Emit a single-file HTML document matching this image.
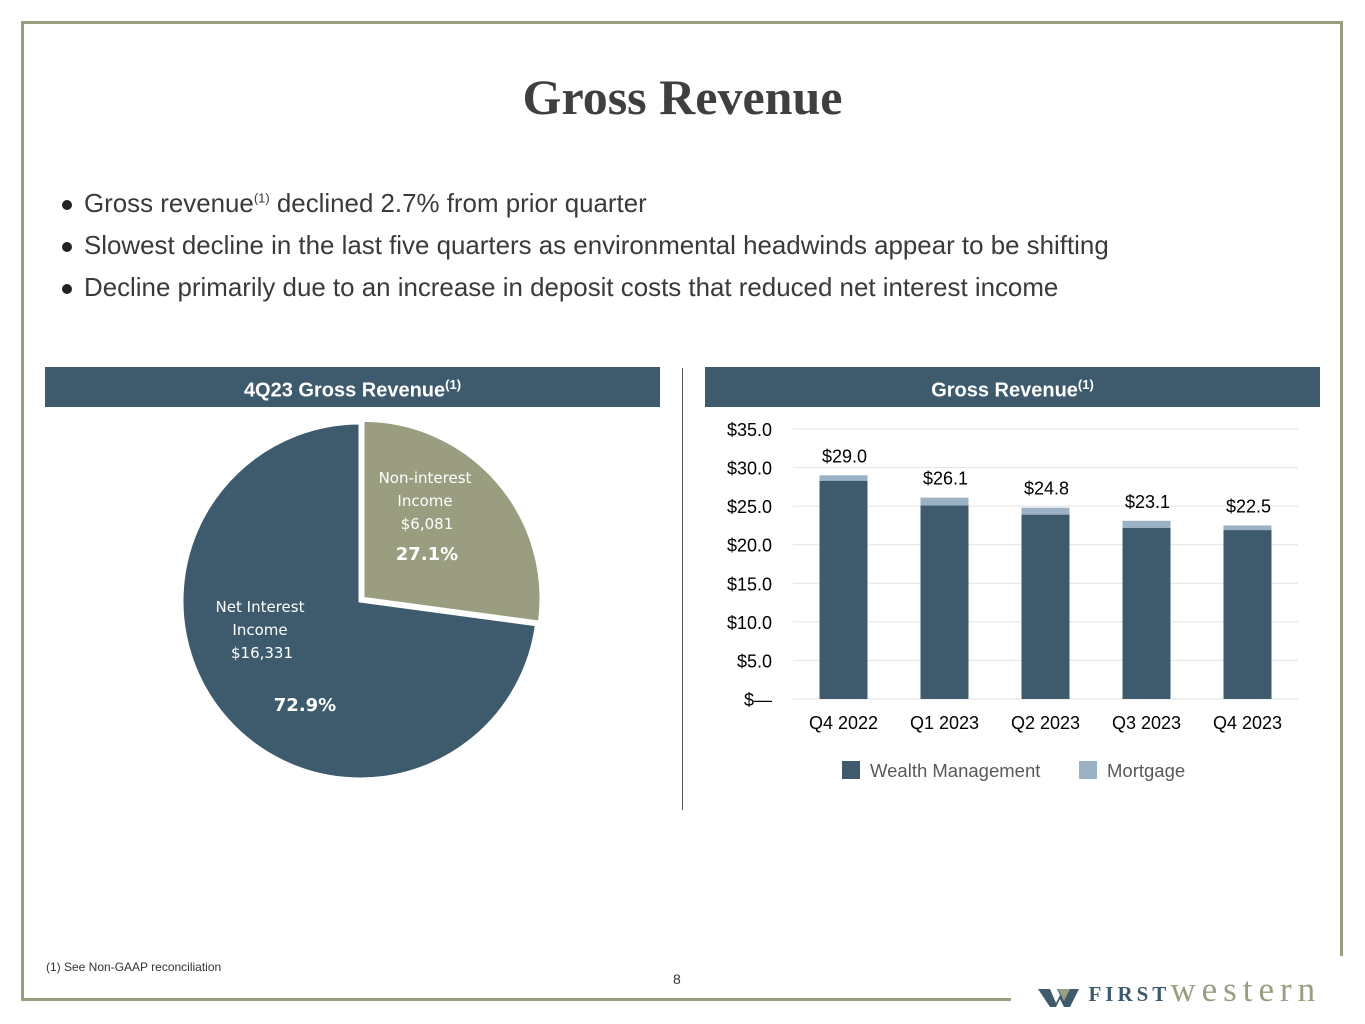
<!DOCTYPE html>
<html><head><meta charset="utf-8"><style>
body{margin:0;width:1365px;height:1024px;background:#fff;position:relative;overflow:hidden;font-family:"Liberation Sans",sans-serif;}
.abs{position:absolute}
.title{left:0;width:1365px;top:68px;text-align:center;font-family:"Liberation Serif",serif;font-weight:bold;font-size:50px;color:#3f3f3f}
.bul{left:62px;font-size:25.9px;color:#3a3a3a;white-space:nowrap}
.bul span.dot{display:inline-block;width:10px;height:10px;border-radius:50%;background:#222;margin-right:12px;vertical-align:middle}
.hdr{background:#3e5b6d;color:#fff;font-weight:bold;font-size:20px;text-align:center;line-height:36px;height:40px;top:367px}
sup{font-size:13px}
</style></head><body>
<div class="abs" style="left:22px;top:21px;width:1321px;height:3px;background:#9a9d80"></div>
<div class="abs" style="left:21px;top:21px;width:3px;height:980px;background:#9a9d80"></div>
<div class="abs" style="left:1340px;top:21px;width:3px;height:935px;background:#9a9d80"></div>
<div class="abs" style="left:21px;top:998px;width:990px;height:3px;background:#9a9d80"></div>
<div class="abs title">Gross Revenue</div>
<div class="abs bul" style="top:190px"><span class="dot"></span>Gross revenue<sup>(1)</sup> declined 2.7% from prior quarter</div>
<div class="abs bul" style="top:232px"><span class="dot"></span>Slowest decline in the last five quarters as environmental headwinds appear to be shifting</div>
<div class="abs bul" style="top:274px"><span class="dot"></span>Decline primarily due to an increase in deposit costs that reduced net interest income</div>
<div class="abs hdr" style="left:45px;width:615px">4Q23 Gross Revenue<sup>(1)</sup></div>
<div class="abs hdr" style="left:705px;width:615px">Gross Revenue<sup>(1)</sup></div>
<div class="abs" style="left:682px;top:368px;width:1px;height:442px;background:#555"></div>
<svg class="abs" style="left:0;top:0" width="1365" height="1024">
<g id="pie"></g>
<g id="bars"></g>
</svg>
<div class="abs" style="left:46px;top:960px;font-size:12px;color:#333">(1) See Non-GAAP reconciliation</div>
<div class="abs" style="left:673px;top:971px;font-size:14px;color:#333">8</div>
<div class="abs" style="left:1038px;top:970px;white-space:nowrap">
<svg width="46" height="22" style="vertical-align:middle"><path d="M0 3h12l6 14 4-8-3-6h22l-9 18h-6l-4-8-4 8h-6z" fill="#3e5b6d"/><path d="M20 3h12l-6 12z" fill="#9a9d80"/></svg>
<span style="font-family:'Liberation Serif',serif;font-weight:bold;font-size:21px;letter-spacing:4px;color:#3e5b6d">FIRST</span><span style="font-family:'Liberation Serif',serif;font-size:35px;letter-spacing:6px;color:#9a9d80">western</span></div>
<script>
const NS="http://www.w3.org/2000/svg";
function mk(p,t,a){const e=document.createElementNS(NS,t);for(const k in a)e.setAttribute(k,a[k]);p.appendChild(e);return e;}
const pieLabels=["Non-interest Income","Net Interest Income"];
const pieValues=[6081,16331];
const pieShares=["27.1%","72.9%"];
const quarters=["Q4 2022","Q1 2023","Q2 2023","Q3 2023","Q4 2023"];
const wealth=[28.3,25.1,23.9,22.2,21.9];
const mortgage=[0.7,1.0,0.9,0.9,0.6];
const totals=["$29.0","$26.1","$24.8","$23.1","$22.5"];
const yTicks=[0,5,10,15,20,25,30,35];
const yTickLabels=["$—","$5.0","$10.0","$15.0","$20.0","$25.0","$30.0","$35.0"];
// pie
const pg=document.getElementById('pie');
const cx=360,cy=601,R=178,tot=pieValues.reduce((a,b)=>a+b,0);
let ang=0;const cols=["#9a9d80","#3e5b6d"];
pieValues.forEach((v,i)=>{const a0=ang,a1=ang+v/tot*2*Math.PI;ang=a1;
 const mid=(a0+a1)/2,off=i==0?4:0;const ox=cx+off*Math.sin(mid),oy=cy-off*Math.cos(mid);
 const x0=ox+R*Math.sin(a0),y0=oy-R*Math.cos(a0),x1=ox+R*Math.sin(a1),y1=oy-R*Math.cos(a1);
 const p=mk(pg,'path',{d:`M${ox},${oy}L${x0},${y0}A${R},${R} 0 ${a1-a0>Math.PI?1:0} 1 ${x1},${y1}Z`,fill:cols[i],stroke:'#fff','stroke-width':3});
 
 
});
function txt(p,x,y,s,a){const t=mk(p,'text',Object.assign({x:x,y:y,'font-family':'"DejaVu Sans",sans-serif','font-size':15,fill:'#fff','text-anchor':'middle'},a||{}));t.textContent=s;return t;}
[["Non-interest",425,483],["Income",425,506],["$"+pieValues[0].toLocaleString("en-US"),427,529]].forEach(r=>txt(pg,r[1],r[2],r[0]));
txt(pg,427,560,pieShares[0],{'font-weight':'bold','font-size':18});
[["Net Interest",260,612],["Income",260,635],["$"+pieValues[1].toLocaleString("en-US"),262,658]].forEach(r=>txt(pg,r[1],r[2],r[0]));
txt(pg,305,711,pieShares[1],{'font-weight':'bold','font-size':18});
// bars
const bg=document.getElementById('bars');
const y0=699,pxu=270/35,x0=793,step=101,bw=48;
const Y=v=>y0-v*pxu, X=i=>x0+step*i+step/2;
yTicks.forEach((t,i)=>{const l=mk(bg,'line',{x1:793,x2:1298,y1:Y(t),y2:Y(t),stroke:'#e2e2e2','stroke-width':1});
 
 
 const tx=txt(bg,772,Y(t)+7,yTickLabels[i],{fill:'#000','text-anchor':'end','font-family':'"Liberation Sans",sans-serif','font-size':18});
 
 });
quarters.forEach((q,i)=>{
 const w=mk(bg,'rect',{x:X(i)-bw/2,y:Y(wealth[i]),width:bw,height:wealth[i]*pxu,fill:'#3e5b6d'});
 
 
 const m=mk(bg,'rect',{x:X(i)-bw/2,y:Y(wealth[i]+mortgage[i]),width:bw,height:mortgage[i]*pxu,fill:'#9bb2c4'});
 
 
 const vl=txt(bg,X(i)+1,Y(wealth[i]+mortgage[i])-13,totals[i],{fill:'#000','font-family':'"Liberation Sans",sans-serif','font-size':18});
 
 
 const xl=txt(bg,X(i),729,q,{fill:'#000','font-family':'"Liberation Sans",sans-serif','font-size':18});
 
 
});
const lg1=mk(bg,'rect',{x:842,y:761,width:18,height:18,fill:'#3e5b6d'});


txt(bg,870,777,"Wealth Management",{fill:'#595959','text-anchor':'start','font-family':'"Liberation Sans",sans-serif','font-size':18.5});
const lg2=mk(bg,'rect',{x:1079,y:761,width:18,height:18,fill:'#9bb2c4'});


txt(bg,1107,777,"Mortgage",{fill:'#595959','text-anchor':'start','font-family':'"Liberation Sans",sans-serif','font-size':18.5});
</script>
</body></html>
